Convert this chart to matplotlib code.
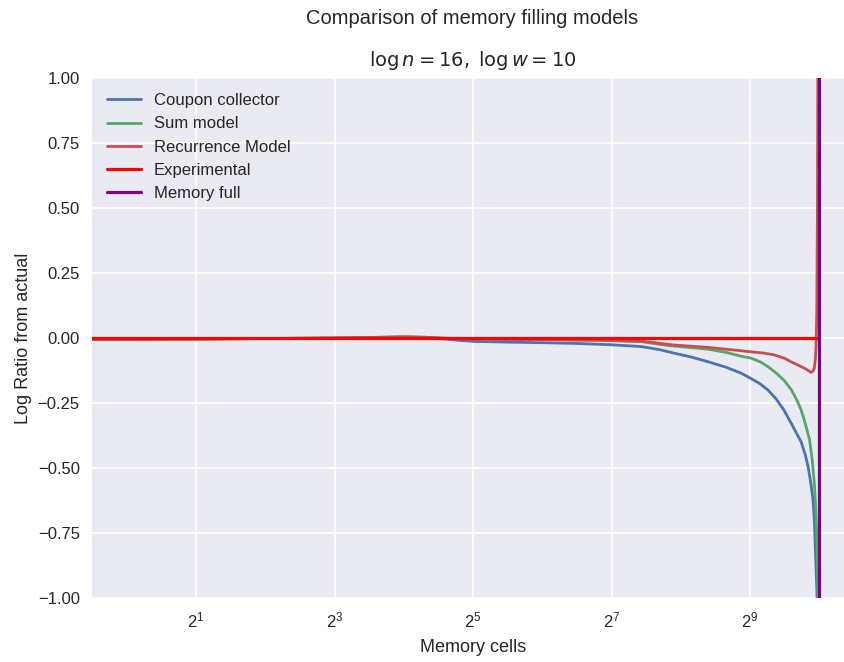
import matplotlib
matplotlib.use("Agg")
import matplotlib.pyplot as plt
import numpy as np

plt.style.use("seaborn-v0_8-darkgrid")
plt.rcParams['font.family'] = ['Liberation Sans', 'DejaVu Sans']

# exponents of 2 (memory cells = 2**exp) and log ratios
coupon_exp = [-0.6, 1.0, 2.0, 3.0, 3.5, 4.0, 4.3, 4.6, 4.8, 5.0, 5.5, 6.0, 6.5, 7.0,
              7.43, 7.7, 7.9, 8.15, 8.39, 8.65, 8.87, 9.01, 9.15, 9.26, 9.38, 9.49,
              9.6, 9.68, 9.74, 9.8, 9.84, 9.88, 9.91, 9.93, 9.945, 9.96, 9.97, 9.99]
coupon_val = [-0.005, -0.004, -0.002, 0.0, 0.002, 0.004, 0.002, -0.004, -0.009, -0.013,
              -0.016, -0.018, -0.021, -0.026, -0.033, -0.045, -0.058, -0.073, -0.091,
              -0.112, -0.135, -0.155, -0.177, -0.2, -0.235, -0.277, -0.33, -0.37, -0.40,
              -0.45, -0.495, -0.56, -0.62, -0.7, -0.815, -0.92, -1.0, -1.6]

sum_exp = [-0.6, 1.0, 2.0, 3.0, 3.5, 4.0, 4.3, 4.6, 5.0, 6.0, 6.85, 7.43, 7.7, 7.9,
           8.15, 8.39, 8.65, 8.87, 9.01, 9.15, 9.26, 9.38, 9.5, 9.6, 9.68, 9.74, 9.8,
           9.86, 9.9, 9.93, 9.95, 9.97, 9.98, 9.99, 10.0]
sum_val = [-0.006, -0.004, -0.002, 0.0, 0.002, 0.004, 0.003, -0.001, -0.004, -0.006,
           -0.009, -0.014, -0.025, -0.031, -0.037, -0.043, -0.055, -0.07, -0.077,
           -0.092, -0.11, -0.135, -0.165, -0.2, -0.24, -0.277, -0.33, -0.39, -0.47,
           -0.56, -0.65, -0.8, -0.95, -1.2, -1.6]

rec_exp = [-0.6, 1.0, 2.0, 3.0, 3.5, 4.0, 4.3, 4.6, 5.0, 6.0, 6.85, 7.43, 7.9, 8.39,
           8.87, 9.01, 9.2, 9.35, 9.5, 9.59, 9.7, 9.8, 9.88, 9.91, 9.93, 9.945, 9.955,
           9.965, 9.975, 9.985]
rec_val = [-0.006, -0.004, -0.002, 0.0, 0.002, 0.004, 0.003, -0.001, -0.004, -0.006,
           -0.009, -0.012, -0.027, -0.036, -0.049, -0.053, -0.058, -0.065, -0.078,
           -0.091, -0.105, -0.118, -0.132, -0.128, -0.115, -0.08, -0.03, 0.1, 0.5, 1.5]

exp_exp = [-0.6, 10.0]
exp_val = [0.0, 0.0]

memory_full = 1024

fig = plt.figure(figsize=(8.45, 6.62), dpi=100)
ax = fig.add_axes([92.3 / 845, 64 / 662, 761.5 / 845, 520 / 662])

lw = 2.0
ax.plot(2 ** np.array(coupon_exp), coupon_val, color='#4C72B0', lw=lw, label='Coupon collector')
ax.plot(2 ** np.array(sum_exp), sum_val, color='#55A868', lw=lw, label='Sum model')
ax.plot(2 ** np.array(rec_exp), rec_val, color='#C44E52', lw=lw, label='Recurrence Model')
ax.plot(2 ** np.array(exp_exp), exp_val, color='red', lw=2.3, label='Experimental')
ax.axvline(memory_full, color='purple', lw=2.3, label='Memory full')

ax.set_xscale('log', base=2)
ax.set_xlim(2 ** -0.5, 2 ** 10.5)
ax.set_ylim(-1, 1)
ticks = [2, 8, 32, 128, 512]
ax.set_xticks(ticks)
ax.set_xticklabels([r'$\mathdefault{2^{%d}}$' % int(np.log2(t)) for t in ticks])
ax.xaxis.set_minor_locator(matplotlib.ticker.NullLocator())
yt = np.arange(-1, 1.01, 0.25)
ax.set_yticks(yt)
ax.set_yticklabels([('%.2f' % v).replace('-', '\u2212') for v in yt])
ax.tick_params(labelsize=12, pad=9)
ax.grid(True, color='white', lw=1.2)

ax.set_xlabel('Memory cells', fontsize=13, labelpad=6)
ax.set_ylabel('Log Ratio from actual', fontsize=13)
ax.set_title(r'$\log n = 16,\;\log w = 10$', fontsize=14, pad=9)
fig.suptitle('Comparison of memory filling models', fontsize=14.5, x=472 / 845, y=0.987)

ax.legend(loc='upper left', fontsize=12, frameon=False, handlelength=2.0)

plt.savefig('out.png', dpi=100)
